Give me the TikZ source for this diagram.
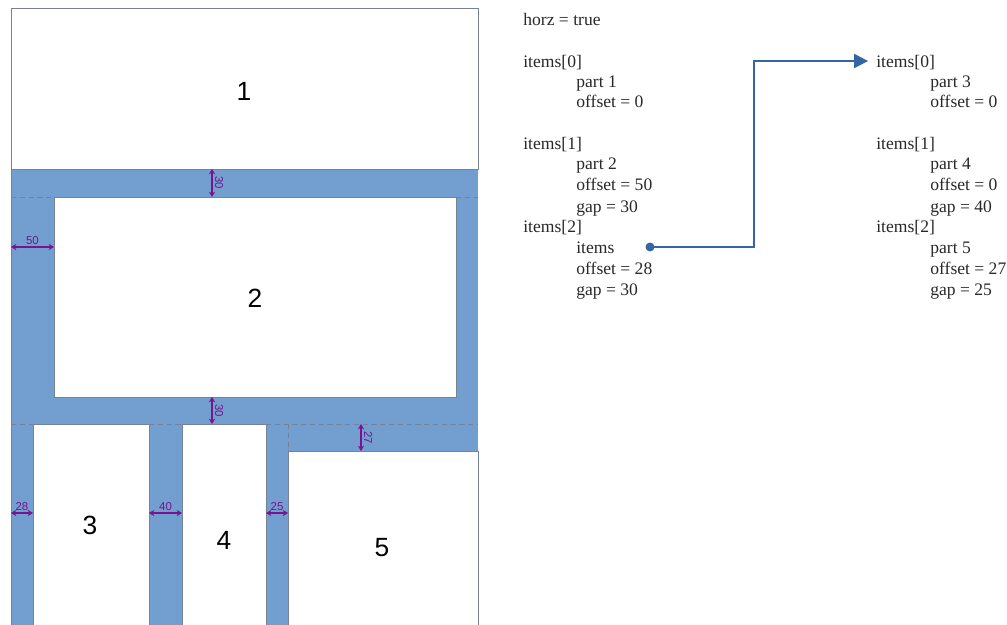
\documentclass[tikz,border=0pt]{standalone}
\usepackage{fontspec}
\setmainfont{Liberation Serif}
\newfontfamily\partfont{Liberation Sans}
\usetikzlibrary{arrows.meta}

\definecolor{gapblue}{RGB}{114,159,207}
\definecolor{edgegray}{RGB}{120,130,150}
\definecolor{dimpurple}{RGB}{120,20,140}
\definecolor{linkblue}{RGB}{52,101,164}
\definecolor{listgray}{RGB}{40,40,40}

\begin{document}
\begin{tikzpicture}[x=0.02cm,y=-0.02cm,
    part/.style={draw=edgegray,line width=0.5pt,fill=white},
    partlabel/.style={font=\partfont\fontsize{15}{17}\selectfont},
    dimline/.style={draw=dimpurple,line width=0.8pt,{Stealth[length=3pt,width=3.5pt]}-{Stealth[length=3pt,width=3.5pt]}},
    dimlabel/.style={text=dimpurple,inner sep=0.5pt,font=\partfont\fontsize{6.5}{7}\selectfont},
    gapdash/.style={draw=edgegray,densely dashed,line width=0.4pt},
    txt/.style={anchor=west,inner sep=0pt,text height=8.8pt,text depth=1.6pt,text=listgray,
      font=\fontsize{10}{12}\selectfont}]
  \useasboundingbox (0,0) rectangle (1007,625);

  % gaps
  \fill[gapblue] (11,169) rectangle (478,625);
  \draw[edgegray,line width=0.5pt] (11,169) -- (11,625);
  \draw[gapdash] (11,197) -- (54,197) (456,197) -- (478,197);
  \draw[gapdash] (11,424) -- (33,424) (149,424) -- (182,424) (266,424) -- (478,424);
  \draw[gapdash] (288,424) -- (288,451);

  % parts
  \draw[part] (11,8) rectangle (478,169);
  \draw[part] (54,197) rectangle (456,397);
  \draw[part] (33,424) rectangle (149,625);
  \draw[part] (182,424) rectangle (266,625);
  \draw[part] (288,451) rectangle (478,625);

  \node[partlabel] (p1) at (244,91) {1};
  \node[partlabel] (p2) at (255,298) {2};
  \node[partlabel] (p3) at (90,525) {3};
  \node[partlabel] (p4) at (224,540) {4};
  \node[partlabel] (p5) at (382,548) {5};

  % sizes of the gaps
  \foreach \x/\ya/\yb/\val in {212/169/197/30,212/397/424/30,361/424/451/27} {
    \draw[dimline] (\x,\ya) -- (\x,\yb);
    \node[dimlabel,rotate=-90] at (\x+7,{(\ya+\yb)/2}) {\val};
  }
  \foreach \xa/\xb/\y/\val in {11/54/247/50,11/33/513/28,149/182/513/40,266/288/513/25} {
    \draw[dimline] (\xa,\y) -- (\xb,\y);
    \node[dimlabel] at ({(\xa+\xb)/2},\y-6) {\val};
  }

  % left list
  \node[txt] (horz) at (523,19) {horz = true};
  \node[txt] (l0) at (523,61) {items[0]};
  \node[txt] (l0a) at (576,81) {part 1};
  \node[txt] (l0b) at (576,101) {offset = 0};
  \node[txt] (l1) at (523,143) {items[1]};
  \node[txt] (l1a) at (576,163) {part 2};
  \node[txt] (l1b) at (576,184) {offset = 50};
  \node[txt] (l1c) at (576,206) {gap = 30};
  \node[txt] (l2) at (523,226) {items[2]};
  \node[txt] (l2a) at (576,247) {items};
  \node[txt] (l2b) at (576,268) {offset = 28};
  \node[txt] (l2c) at (576,289) {gap = 30};

  % right list
  \node[txt] (r0) at (876,61) {items[0]};
  \node[txt] (r0a) at (930,81) {part 3};
  \node[txt] (r0b) at (930,101) {offset = 0};
  \node[txt] (r1) at (876,143) {items[1]};
  \node[txt] (r1a) at (930,163) {part 4};
  \node[txt] (r1b) at (930,184) {offset = 0};
  \node[txt] (r1c) at (930,206) {gap = 40};
  \node[txt] (r2) at (876,226) {items[2]};
  \node[txt] (r2a) at (930,247) {part 5};
  \node[txt] (r2b) at (930,268) {offset = 27};
  \node[txt] (r2c) at (930,289) {gap = 25};

  % link
  \coordinate (dot) at (650,247);
  \coordinate (bend) at (754,61);
  \fill[linkblue] (dot) circle [radius=4.5];
  \draw[linkblue,line width=1.1pt,shorten >=4.5pt,-{Triangle[length=8pt,width=8pt]}]
    (dot) -| (bend) -- (r0.west);
\end{tikzpicture}
\end{document}
